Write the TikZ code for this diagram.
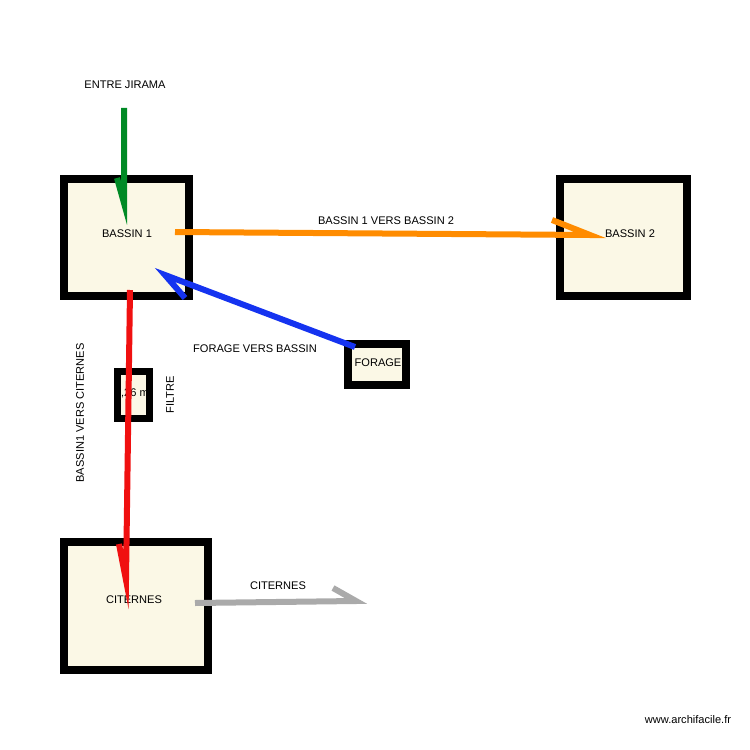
\documentclass[tikz,border=0pt]{standalone}
\usepackage{fontspec}
\setmainfont{Liberation Sans}
\definecolor{cream}{HTML}{FBF8E6}
\definecolor{pipegreen}{HTML}{008A25}
\definecolor{pipeorange}{HTML}{FF8C00}
\definecolor{pipeblue}{HTML}{1533F0}
\definecolor{pipered}{HTML}{F01010}
\definecolor{pipegrey}{HTML}{AAAAAA}
\tikzset{
  room/.style={draw=black,fill=cream,line width=8*0.02cm},
  lbl/.style={font=\fontsize{6.3}{7}\selectfont,inner sep=0pt},
  pipe/.style={line width=6*0.02cm}
}
\begin{document}
\begin{tikzpicture}[x=0.02cm,y=-0.02cm]
\useasboundingbox (0,0) rectangle (750,750);
% rooms
\draw[room] (64,179) rectangle (189,296);
\draw[room] (560,179) rectangle (687,296);
\draw[room] (348,344) rectangle (406,385);
\draw[room,line width=7*0.02cm] (117,371) rectangle (149,418);
\draw[room] (64,542) rectangle (208,670);
\node[lbl] (b1) at (127,234) {BASSIN 1};
\node[lbl] (b2) at (630,234) {BASSIN 2};
\node[lbl] (fo) at (378,363) {FORAGE};
\begin{scope}
\clip (120,374) rectangle (146,415);
\node[lbl] (fi) at (135,393) {,26 m};
\end{scope}
\node[lbl] (ci) at (134,600) {CITERNES};
% pipe ends
\coordinate (g1) at (124,108); \coordinate (g2) at (124,203);
\coordinate (o1) at (175,232); \coordinate (o2) at (590,235);
\coordinate (u1) at (355,347); \coordinate (u2) at (165,275);
\coordinate (r1) at (130,290); \coordinate (r2) at (126,580);
\coordinate (s1) at (195,603); \coordinate (s2) at (356,601);
\draw[pipe,pipegreen] (g1) -- (g2) -- (117,178);
\draw[pipe,pipeorange] (o1) -- (o2) -- (552,220);
\draw[pipe,pipeblue] (u1) -- (u2) -- (185,298);
\draw[pipe,pipered] (r1) -- (r2) -- (119,544);
\draw[pipe,pipegrey] (s1) -- (s2) -- (333,588);
% labels
\node[lbl] (t1) at (125,85) {ENTRE JIRAMA};
\node[lbl] (t2) at (386,221) {BASSIN 1 VERS BASSIN 2};
\node[lbl] (t3) at (255,349) {FORAGE VERS BASSIN};
\node[lbl,rotate=90] (t4) at (170,395) {FILTRE};
\node[lbl,rotate=90] (t5) at (80,413) {BASSIN1 VERS CITERNES};
\node[lbl] (t6) at (278,586) {CITERNES};
\node[lbl] (t7) at (688,720) {www.archifacile.fr};
\end{tikzpicture}
\end{document}
